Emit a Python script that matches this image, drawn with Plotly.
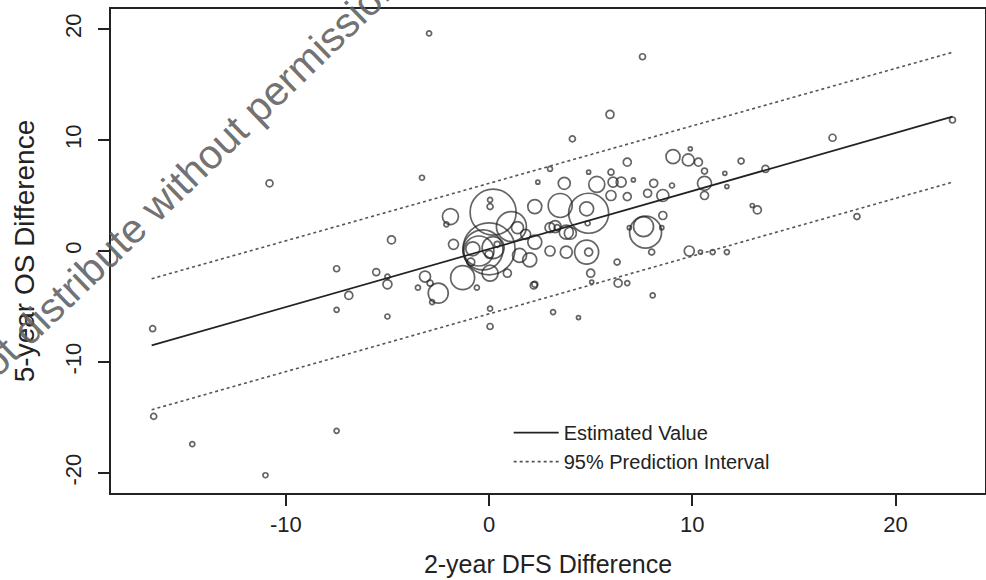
import plotly.graph_objects as go

# ---- data ----
dfs_diff = [-16.55, -16.5, -14.6, -11.0, -10.8, -7.5, -7.5, -7.5, -6.9, -4.8,
            -5.55, -5.0, -5.0, -5.0, -2.95, -3.3, -3.15, -3.5, -2.9, -2.5,
            -1.3, -0.6, -2.8, -1.9, -2.1, -1.75, 0.2, 0.05, 0.05, 1.1,
            1.4, 0.0, -0.3, -0.5, 0.2, -0.8, 0.0, 0.4, 2.25, 3.5,
            4.9, 4.8, 4.8, 4.9, 3.8, 3.0, 2.0, 1.5, 2.25, 3.25,
            3.8, 0.05, 0.9, 2.2, 5.0, 5.05, 5.95, 4.1, 9.05, 9.8,
            10.3, 9.9, 6.8, 12.4, 13.6, 10.6, 11.6, 11.7, 10.6, 10.6,
            4.9, 6.0, 6.1, 6.5, 5.3, 7.1, 6.0, 6.8, 7.8, 8.1,
            8.55, 9.0, 8.55, 7.6, 7.7, 8.5, 6.9, 8.0, 8.05, 9.85,
            10.4, 11.0, 11.7, 13.2, 12.95, 6.3, 6.35, 6.8, 3.15, 4.4,
            0.05, 2.25, 3.0, 3.7, 2.4, 16.9, 22.8, 18.1, 7.55, 0.05,
            1.8, -0.9, 4.0, 3.0, 3.35, 4.85]
os_diff = [-7.0, -14.9, -17.4, -20.2, 6.1, -1.6, -5.3, -16.2, -4.0, 1.0,
           -1.9, -3.0, -2.3, -5.9, 19.6, 6.6, -2.3, -3.3, -2.9, -3.8,
           -2.4, -3.3, -4.6, 3.1, 2.4, 0.6, 3.5, 4.6, 4.0, 2.2,
           2.1, 0.2, 0.1, 0.0, 0.3, 0.2, -0.3, 0.6, 4.0, 4.1,
           3.4, 3.8, -0.1, -0.1, -0.1, 0.0, -0.8, -0.4, 0.8, 2.2,
           1.7, -2.0, -2.0, -3.1, -2.0, -2.8, 12.3, 10.1, 8.5, 8.2,
           8.0, 9.2, 8.0, 8.1, 7.4, 7.2, 7.0, 5.8, 6.1, 5.0,
           7.1, 7.1, 6.2, 6.2, 6.0, 6.4, 5.0, 4.9, 5.2, 6.1,
           5.0, 5.9, 3.2, 2.2, 1.7, 2.1, 2.1, -0.1, -4.0, 0.0,
           -0.1, -0.1, -0.1, 3.7, 4.1, -1.0, -2.9, -2.9, -5.5, -6.0,
           -6.8, -3.0, 7.4, 6.1, 6.2, 10.2, 11.8, 3.1, 17.5, -5.2,
           1.5, -1.0, 1.6, 2.1, 2.1, 2.5]
study_weight = [6, 6, 5, 5, 7, 6, 5, 5, 8, 8,
                7, 9, 5, 5, 5, 5, 11, 5, 6, 20,
                24, 5, 5, 16, 5, 10, 46, 5, 6, 30,
                12, 52, 40, 30, 22, 14, 8, 6, 14, 24,
                40, 14, 24, 8, 12, 10, 14, 14, 14, 12,
                14, 16, 8, 7, 8, 4, 8, 6, 14, 12,
                8, 4, 8, 6, 7, 6, 4, 4, 14, 8,
                4, 6, 10, 10, 16, 4, 10, 8, 8, 8,
                12, 5, 8, 20, 32, 4, 4, 6, 5, 10,
                4, 5, 5, 8, 4, 6, 8, 5, 5, 4,
                6, 6, 5, 12, 4, 7, 6, 6, 6, 5,
                10, 8, 12, 10, 6, 5]

fit_x = [-16.6, 22.8]
fit_y = [-8.5, 12.1]
pi_upper_y = [-2.5, 17.9]
pi_lower_y = [-14.3, 6.2]

x_ticks = [-10, 0, 10, 20]
y_ticks = [-20, -10, 0, 10, 20]

FONT = "Liberation Sans, Arial, sans-serif"

fig = go.Figure()
fig.add_trace(go.Scatter(
    x=dfs_diff, y=os_diff, mode="markers", showlegend=False, hoverinfo="skip",
    marker=dict(symbol="circle-open", size=study_weight, sizemode="diameter",
                color="#222222", line=dict(width=1.7, color="#222222")),
))
fig.add_trace(go.Scatter(x=fit_x, y=fit_y, mode="lines", name="Estimated Value",
                         line=dict(color="#222222", width=1.7)))
fig.add_trace(go.Scatter(x=fit_x, y=pi_upper_y, mode="lines", name="95% Prediction Interval",
                         line=dict(color="#555555", width=1.6, dash="dot")))
fig.add_trace(go.Scatter(x=fit_x, y=pi_lower_y, mode="lines", showlegend=False,
                         line=dict(color="#555555", width=1.6, dash="dot")))

fig.update_layout(
    width=986, height=580,
    margin=dict(l=111, r=1, t=9, b=87, autoexpand=False),
    paper_bgcolor="white", plot_bgcolor="white",
    font=dict(family=FONT, color="#222222"),
    legend=dict(x=0.455, y=0.165, xanchor="left", yanchor="top",
                bgcolor="rgba(0,0,0,0)", font=dict(size=20, family=FONT),
                itemwidth=45, tracegroupgap=0),
    xaxis=dict(range=[-18.6, 24.4], tickvals=x_ticks, ticktext=[str(v) for v in x_ticks],
               automargin=False,
               showgrid=False, zeroline=False, showline=True, mirror=True,
               linecolor="#222222", linewidth=2, ticks="outside", ticklen=11,
               tickwidth=1.5, tickcolor="#222222", tickfont=dict(size=22),
               ticklabelstandoff=0,
               title=dict(text="2-year DFS Difference", font=dict(size=25), standoff=19)),
    yaxis=dict(range=[-21.8, 21.8], tickvals=y_ticks, ticktext=[str(v) for v in y_ticks],
               automargin=False,
               showgrid=False, zeroline=False, showline=True, mirror=True,
               linecolor="#222222", linewidth=2, ticks="outside", ticklen=11,
               tickwidth=1.5, tickcolor="#222222", tickfont=dict(size=22),
               tickangle=-90, ticklabelstandoff=8,
               title=dict(text="5-year OS Difference", font=dict(size=28), standoff=18)),
)

fig.add_annotation(
    text="Do not distribute without permission", xref="paper", yref="paper",
    x=(158 - 111) / 874, y=(493 - 204) / 484, xanchor="center", yanchor="middle",
    showarrow=False, textangle=-44,
    font=dict(size=41, family=FONT, color="rgba(95,95,95,0.9)"),
)

fig.write_html(
    "out.html",
    config={"displayModeBar": False},
    post_script="document.body.style.margin='0';document.body.style.overflow='hidden';",
)
